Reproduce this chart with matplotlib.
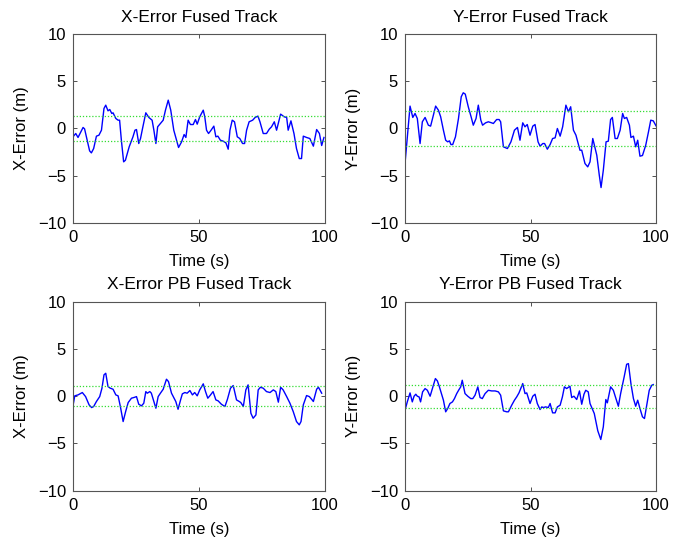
# -*- coding: utf-8 -*-

import numpy as np
import matplotlib
matplotlib.use("Agg")
import matplotlib.pyplot as plt

plt.rcParams["font.family"] = ["Liberation Sans", "DejaVu Sans"]
plt.rcParams["axes.unicode_minus"] = True

# X-error, fused track
x_fused_t = [0, 1.1, 2.0, 4.0, 4.6, 6.6, 7.3, 8.2, 9.3, 10.3, 11.3, 12.3, 13.0, 13.9,
             14.6, 15.4, 15.9, 17.0, 17.9, 18.5, 19.2, 20.1, 20.8, 22.3, 23.8, 24.6,
             25.2, 26.1, 26.8, 27.6, 28.9, 30.1, 31.4, 32.1, 32.9, 33.6, 34.7, 35.8,
             36.7, 37.8, 38.8, 40.0, 41.1, 41.9, 43.1, 44.1, 44.8, 45.7, 46.6, 47.7,
             48.6, 49.3, 50.3, 51.7, 52.3, 53.0, 53.8, 54.8, 55.9, 56.7, 57.5, 58.5,
             59.6, 60.7, 61.6, 62.3, 63.2, 64.1, 65.2, 66.2, 67.3, 68.1, 68.9, 69.9,
             71.3, 72.3, 73.4, 74.2, 75.5, 76.8, 77.9, 78.8, 79.9, 80.8, 82.4, 83.8,
             84.8, 85.4, 86.5, 87.7, 88.7, 89.8, 90.7, 91.4, 92.7, 94.0, 95.4, 96.7,
             97.8, 98.7, 99.6]
x_fused_err = [-0.88, -0.53, -0.95, 0.11, -0.04, -2.37, -2.58, -2.12, -0.81, -0.71,
               -0.18, 2.12, 2.47, 1.87, 2.01, 1.59, 1.66, 1.06, 0.88, 0.88, -1.24,
               -3.53, -3.36, -1.94, -0.88, -0.18, -0.11, -1.59, -1.06, 0.0, 1.66, 1.17,
               0.88, -0.18, -1.59, 0.18, 0.53, 0.88, 1.94, 3.00, 1.94, -0.18, -1.24,
               -2.01, -1.41, -0.64, -0.95, 0.88, 0.42, 0.42, 0.95, 0.46, 1.24, 1.94,
               1.24, -0.18, -0.53, -0.18, 0.25, -0.88, -0.81, -1.24, -1.34, -1.52,
               -2.19, -0.18, 0.88, 0.71, -0.88, -1.06, -1.59, -1.59, -0.18, 0.71, 0.88,
               1.17, 1.31, 0.71, -0.53, -0.53, -0.07, 0.18, 0.71, -0.18, 1.52, 1.24,
               1.17, -0.18, 0.81, -0.53, -2.12, -3.18, -3.18, -0.81, -0.95, -1.06,
               -1.87, -0.11, -0.53, -1.80, -0.95]
x_fused_bound = 1.36

# Y-error, fused track
y_fused_t = [0, 2.0, 3.1, 4.0, 4.9, 6.0, 6.9, 8.0, 9.3, 10.2, 11.3, 12.2, 13.3, 14.2,
             15.3, 16.2, 17.0, 17.7, 18.3, 19.0, 20.1, 21.3, 22.4, 23.2, 24.0, 25.2,
             26.4, 27.2, 28.3, 29.2, 30.2, 30.9, 32.1, 33.2, 34.5, 35.2, 36.5, 37.5,
             38.1, 39.2, 40.8, 42.2, 43.6, 44.8, 45.8, 46.9, 47.8, 48.7, 49.8, 50.9,
             51.8, 53.0, 53.8, 54.9, 55.6, 56.7, 57.8, 58.8, 59.8, 60.7, 61.8, 62.8,
             64.1, 65.1, 66.0, 67.1, 68.1, 69.7, 70.4, 71.7, 72.8, 73.7, 74.8, 76.4,
             77.4, 78.1, 79.0, 80.1, 81.0, 81.9, 82.6, 83.7, 84.6, 85.7, 86.7, 87.4,
             88.3, 89.4, 90.0, 91.0, 91.9, 92.7, 93.6, 94.6, 95.9, 97.0, 97.9, 98.9,
             100.0]
y_fused_err = [-3.71, 2.37, 1.17, 1.59, 1.06, -1.59, 0.71, 1.17, 0.35, 0.25, 1.41, 2.37,
               1.94, 1.24, -0.18, -1.24, -1.41, -1.31, -1.70, -1.70, -0.88, 1.06, 3.36,
               3.78, 3.64, 2.30, 1.17, 0.35, 1.06, 2.47, 0.88, 0.35, 0.60, 0.71, 0.60,
               0.53, 0.95, 0.95, 0.71, -1.94, -2.12, -1.41, -0.18, 0.11, -1.24, 0.60,
               0.18, 0.42, -0.71, 0.25, 0.42, -1.41, -1.87, -1.59, -1.59, -2.19, -1.70,
               -1.06, -0.99, 0.0, -0.81, 0.18, 2.47, 1.77, 2.30, -0.18, -0.71, -2.30,
               -2.30, -3.71, -4.06, -3.53, -1.06, -2.83, -4.95, -6.25, -4.42, -1.41,
               -1.34, 0.95, 1.17, -1.06, -1.06, -0.18, 1.59, 1.06, 1.17, 0.35, -0.95,
               -0.81, -1.94, -1.24, -2.93, -2.86, -1.77, -0.35, 0.88, 0.81, 0.28]
y_fused_bound = 1.86

# X-error, PB fused track
x_pb_t = [0, 0.7, 2.0, 3.7, 5.0, 6.4, 7.4, 8.2, 9.3, 10.6, 11.5, 12.3, 13.0, 13.9, 14.8,
          15.9, 17.0, 17.9, 18.8, 19.9, 20.9, 21.9, 23.2, 24.5, 25.2, 26.1, 27.2, 28.1,
          28.9, 29.5, 30.5, 31.1, 32.9, 33.8, 34.7, 35.8, 37.1, 37.9, 39.1, 40.8, 41.7,
          42.7, 43.4, 44.4, 45.3, 46.4, 47.4, 48.3, 49.3, 50.3, 51.7, 52.6, 53.5, 54.3,
          55.6, 56.7, 57.6, 58.9, 60.3, 61.3, 62.5, 63.6, 64.9, 66.0, 66.6, 67.6, 68.6,
          69.5, 70.6, 71.5, 72.6, 73.5, 74.4, 75.5, 76.8, 78.2, 79.5, 80.5, 81.5, 82.4,
          83.4, 84.8, 86.1, 87.4, 88.7, 89.8, 90.5, 91.4, 92.7, 93.8, 94.7, 95.4, 96.7,
          97.4, 98.0, 98.7]
x_pb_err = [-1.02, 0.04, 0.14, 0.39, -0.04, -0.92, -1.20, -1.09, -0.56, -0.04, 0.85,
            2.26, 2.43, 1.02, 0.85, 0.74, 0.14, 0.04, -1.09, -2.68, -1.62, -0.67, -0.21,
            -0.11, -0.04, -0.85, -1.02, -0.74, 0.49, 0.32, 0.49, 0.32, -1.27, -0.04,
            0.32, 0.74, 1.80, 1.55, 0.32, -0.56, -1.38, -0.39, 0.25, 0.39, 0.32, 0.60,
            0.14, 0.39, 0.04, 0.67, 1.31, 0.49, -0.21, 0.04, 0.49, -0.39, -0.49, -0.85,
            -1.09, -0.32, 0.85, 1.13, -0.39, -0.56, -0.67, -1.09, 0.67, 1.20, -1.80,
            -2.33, -1.98, 0.67, 0.95, 0.85, 0.49, 0.39, 0.67, 0.49, -0.63, 0.95, 0.67,
            -0.04, -0.74, -1.62, -2.68, -3.03, -2.68, -0.92, 0.07, -0.04, -0.32, -0.56,
            0.74, 0.95, 0.67, 0.32]
x_pb_bound = 1.04

# Y-error, PB fused track
y_pb_t = [0, 0.9, 2.0, 2.9, 3.6, 4.3, 4.9, 5.6, 6.2, 7.0, 8.0, 8.9, 10.0, 11.3, 12.1,
          12.9, 13.7, 15.3, 16.2, 17.0, 17.9, 18.9, 19.7, 20.6, 21.5, 22.2, 22.8, 23.9,
          25.0, 26.2, 27.0, 27.9, 29.0, 29.9, 30.8, 31.9, 33.2, 34.5, 35.9, 37.2, 38.1,
          39.2, 40.5, 41.2, 42.5, 43.6, 44.5, 45.4, 46.9, 47.8, 48.5, 49.8, 50.9, 51.8,
          52.7, 53.8, 54.5, 55.1, 56.0, 57.1, 57.8, 58.8, 59.8, 60.7, 61.8, 62.7, 63.5,
          64.4, 65.7, 66.4, 67.3, 68.4, 69.5, 70.4, 71.3, 72.0, 73.0, 73.7, 75.4, 76.8,
          78.0, 79.0, 80.0, 80.6, 81.9, 83.0, 83.9, 85.0, 85.9, 87.3, 88.3, 89.0, 90.0,
          91.0, 91.9, 92.7, 93.6, 94.6, 95.4, 96.3, 97.3, 98.3, 98.9]
y_pb_err = [-1.48, -0.60, 0.35, -0.60, 0.0, 0.21, 0.0, -0.07, -0.60, 0.46, 0.81, 0.63,
            0.0, 1.16, 1.87, 1.62, 0.99, -0.42, -1.65, -1.30, -0.77, -0.60, -0.25, 0.28,
            0.70, 0.99, 1.69, 0.28, 0.0, -0.25, -0.25, 0.11, 0.99, -0.14, -0.25, 0.28,
            0.63, 0.56, 0.56, 0.46, 0.11, -1.55, -1.65, -1.65, -0.95, -0.42, -0.07, 0.35,
            1.34, 0.28, 0.35, -0.77, 0.0, 0.21, -0.77, -1.41, -1.13, -1.20, -1.13, -1.20,
            -0.77, -1.76, -1.76, -1.13, -0.95, -0.07, 0.99, 0.81, 1.06, -0.14, 0.0,
            -0.35, 0.56, -0.85, 0.21, 0.63, 0.46, -0.77, -1.83, -3.66, -4.58, -3.24,
            -0.35, -0.70, 0.99, 0.63, -0.14, -1.06, 0.28, 2.04, 3.38, 3.45, 1.34, -0.25,
            -1.06, -0.42, -1.30, -2.18, -2.36, -0.95, 0.63, 1.16, 1.23]
y_pb_bound = 1.2

panels = [
    (x_fused_t, x_fused_err, x_fused_bound, "X-Error Fused Track", "X-Error (m)"),
    (y_fused_t, y_fused_err, y_fused_bound, "Y-Error Fused Track", "Y-Error (m)"),
    (x_pb_t, x_pb_err, x_pb_bound, "X-Error PB Fused Track", "X-Error (m)"),
    (y_pb_t, y_pb_err, y_pb_bound, "Y-Error PB Fused Track", "Y-Error (m)"),
]

# axes boxes [left, bottom, width, height] in figure fractions
positions = [
    [0.1064, 0.5863, 0.3673, 0.3506],
    [0.5904, 0.5863, 0.3659, 0.3506],
    [0.1064, 0.0896, 0.3673, 0.3506],
    [0.5904, 0.0896, 0.3659, 0.3506],
]

fig = plt.figure(figsize=(6.86, 5.39), dpi=100)

for (t, err, bound, title, ylabel), pos in zip(panels, positions):
    ax = fig.add_axes(pos)
    ax.plot(t, err, color="#0000ff", linewidth=1.0)
    ax.axhline(bound, color="#33dd33", linestyle=(0, (1, 1.5)), linewidth=0.9)
    ax.axhline(-bound, color="#33dd33", linestyle=(0, (1, 1.5)), linewidth=0.9)

    ax.set_xlim(0, 100)
    ax.set_ylim(-10, 10)
    ax.set_xticks([0, 50, 100])
    ax.set_yticks([-10, -5, 0, 5, 10])
    ax.tick_params(direction="in", length=3, width=0.6, top=True, right=True,
                   labelsize=12, pad=5, colors="#333333", labelcolor="black")
    for spine in ax.spines.values():
        spine.set_color("#555555")
        spine.set_linewidth(0.8)

    ax.set_title(title, fontsize=12.5, pad=9)
    ax.set_xlabel("Time (s)", fontsize=12, labelpad=6.5)
    ax.set_ylabel(ylabel, fontsize=12, labelpad=6)

fig.savefig("out.png", dpi=100)
